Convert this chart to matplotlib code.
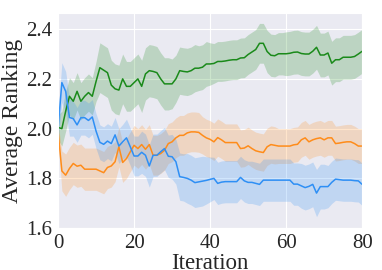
import matplotlib
matplotlib.use("Agg")
import matplotlib.pyplot as plt
import numpy as np
import seaborn as sns

sns.set_style("darkgrid")
plt.rcParams['font.family'] = ['Liberation Serif', 'DejaVu Serif']

iteration = np.arange(81)

# mean curves
green = [2.005, 2.00, 2.07, 2.13, 2.11, 2.15, 2.11, 2.13, 2.145, 2.13,
         2.19, 2.245, 2.235, 2.225, 2.175, 2.16, 2.155, 2.20, 2.17, 2.17,
         2.185, 2.20, 2.17, 2.22, 2.233, 2.23, 2.225, 2.20, 2.18, 2.18,
         2.18, 2.20, 2.233, 2.23, 2.228, 2.233, 2.243, 2.243, 2.247, 2.26,
         2.26, 2.262, 2.27, 2.27, 2.272, 2.275, 2.277, 2.277, 2.284, 2.285,
         2.298, 2.308, 2.318, 2.343, 2.343, 2.31, 2.295, 2.293, 2.301, 2.301,
         2.301, 2.303, 2.307, 2.308, 2.302, 2.30, 2.30, 2.311, 2.327, 2.296,
         2.296, 2.304, 2.263, 2.277, 2.277, 2.287, 2.287, 2.287, 2.29, 2.30,
         2.311]
blue = [2.00, 2.185, 2.15, 2.045, 2.04, 2.015, 2.044, 2.044, 2.033, 2.047,
        1.99, 1.945, 1.937, 1.95, 1.94, 1.975, 1.93, 1.947, 1.963, 1.927,
        1.89, 1.89, 1.905, 1.893, 1.85, 1.893, 1.893, 1.907, 1.92, 1.889,
        1.887, 1.867, 1.807, 1.804, 1.80, 1.793, 1.783, 1.786, 1.789, 1.792,
        1.796, 1.80, 1.78, 1.785, 1.787, 1.787, 1.787, 1.787, 1.804, 1.79,
        1.784, 1.784, 1.78, 1.776, 1.793, 1.793, 1.793, 1.793, 1.793, 1.793,
        1.793, 1.793, 1.777, 1.777, 1.77, 1.763, 1.768, 1.776, 1.741, 1.767,
        1.767, 1.767, 1.784, 1.797, 1.795, 1.793, 1.793, 1.793, 1.791, 1.79,
        1.776]
orange = [1.99, 1.83, 1.813, 1.84, 1.86, 1.849, 1.853, 1.837, 1.837, 1.837,
          1.837, 1.83, 1.823, 1.844, 1.85, 1.867, 1.927, 1.864, 1.88, 1.907,
          1.933, 1.92, 1.936, 1.917, 1.936, 1.893, 1.893, 1.90, 1.913, 1.94,
          1.947, 1.963, 1.973, 1.973, 1.983, 1.987, 1.987, 1.985, 1.973, 1.963,
          1.957, 1.947, 1.964, 1.955, 1.944, 1.944, 1.944, 1.944, 1.92, 1.922,
          1.931, 1.92, 1.911, 1.907, 1.904, 1.927, 1.936, 1.933, 1.93, 1.93,
          1.93, 1.93, 1.935, 1.937, 1.955, 1.963, 1.947, 1.955, 1.96, 1.963,
          1.955, 1.963, 1.963, 1.94, 1.942, 1.945, 1.947, 1.947, 1.94, 1.93,
          1.93]

# half widths of the shaded bands
green_sd = [0.05, 0.07, 0.08, 0.075, 0.075, 0.075, 0.075, 0.075, 0.075, 0.075,
            0.08, 0.10, 0.10, 0.10, 0.10, 0.10, 0.10, 0.10, 0.10, 0.10,
            0.10, 0.10, 0.105, 0.105, 0.105, 0.105, 0.105, 0.105, 0.105, 0.105,
            0.10, 0.095, 0.095, 0.095, 0.095, 0.095, 0.095, 0.09, 0.09, 0.09,
            0.085, 0.08, 0.08, 0.08, 0.08, 0.08, 0.08, 0.08, 0.08, 0.08,
            0.08, 0.08, 0.08, 0.08, 0.08, 0.085, 0.085, 0.085, 0.085, 0.085,
            0.088, 0.088, 0.088, 0.088, 0.088, 0.088, 0.088, 0.088, 0.088, 0.088,
            0.088, 0.088, 0.088, 0.088, 0.088, 0.088, 0.088, 0.088, 0.088, 0.088,
            0.088]
blue_sd = [0.06, 0.08, 0.08, 0.075, 0.07, 0.07, 0.07, 0.07, 0.07, 0.07,
           0.07, 0.07, 0.07, 0.07, 0.07, 0.07, 0.07, 0.07, 0.075, 0.075,
           0.08, 0.08, 0.085, 0.085, 0.085, 0.085, 0.085, 0.085, 0.085, 0.085,
           0.09, 0.09, 0.095, 0.095, 0.1, 0.1, 0.1, 0.1, 0.1, 0.095,
           0.09, 0.085, 0.085, 0.085, 0.085, 0.085, 0.085, 0.085, 0.085, 0.085,
           0.085, 0.085, 0.085, 0.085, 0.085, 0.085, 0.085, 0.085, 0.085, 0.085,
           0.085, 0.085, 0.085, 0.085, 0.09, 0.09, 0.09, 0.09, 0.095, 0.09,
           0.09, 0.085, 0.085, 0.085, 0.085, 0.085, 0.085, 0.085, 0.085, 0.085,
           0.085]
orange_sd = [0.03, 0.08, 0.085, 0.085, 0.085, 0.085, 0.085, 0.085, 0.085, 0.085,
             0.085, 0.085, 0.085, 0.085, 0.085, 0.08, 0.08, 0.08, 0.08, 0.08,
             0.08, 0.08, 0.08, 0.08, 0.08, 0.08, 0.08, 0.08, 0.08, 0.08,
             0.08, 0.08, 0.08, 0.08, 0.08, 0.08, 0.08, 0.08, 0.075, 0.075,
             0.075, 0.075, 0.075, 0.075, 0.075, 0.075, 0.075, 0.075, 0.075, 0.075,
             0.075, 0.075, 0.075, 0.075, 0.075, 0.075, 0.075, 0.075, 0.07, 0.07,
             0.07, 0.07, 0.07, 0.07, 0.07, 0.07, 0.07, 0.07, 0.07, 0.07,
             0.07, 0.07, 0.07, 0.07, 0.07, 0.07, 0.07, 0.07, 0.07, 0.07,
             0.07]

series = [(green, green_sd, '#1a8a1a'),
          (orange, orange_sd, '#ff8c1a'),
          (blue, blue_sd, '#2e8ff5')]

fig, ax = plt.subplots(figsize=(3.82, 2.70), dpi=100)
for mean, sd, col in series:
    mean = np.array(mean)
    sd = np.array(sd)
    ax.fill_between(iteration, mean - sd, mean + sd, color=col, alpha=0.22, linewidth=0)
    ax.plot(iteration, mean, color=col, linewidth=1.1)

ax.set_xlim(0, 80)
ax.set_ylim(1.6, 2.465)
ax.set_xticks([0, 20, 40, 60, 80])
ax.set_yticks([1.6, 1.8, 2.0, 2.2, 2.4])
ax.tick_params(labelsize=15, pad=1)
ax.set_xlabel("Iteration", fontsize=16.5, labelpad=-0.5)
ax.set_ylabel("Average Ranking", fontsize=17, labelpad=2)

plt.subplots_adjust(left=0.152, right=0.948, bottom=0.155, top=0.952)
plt.savefig("out.png", dpi=100)
